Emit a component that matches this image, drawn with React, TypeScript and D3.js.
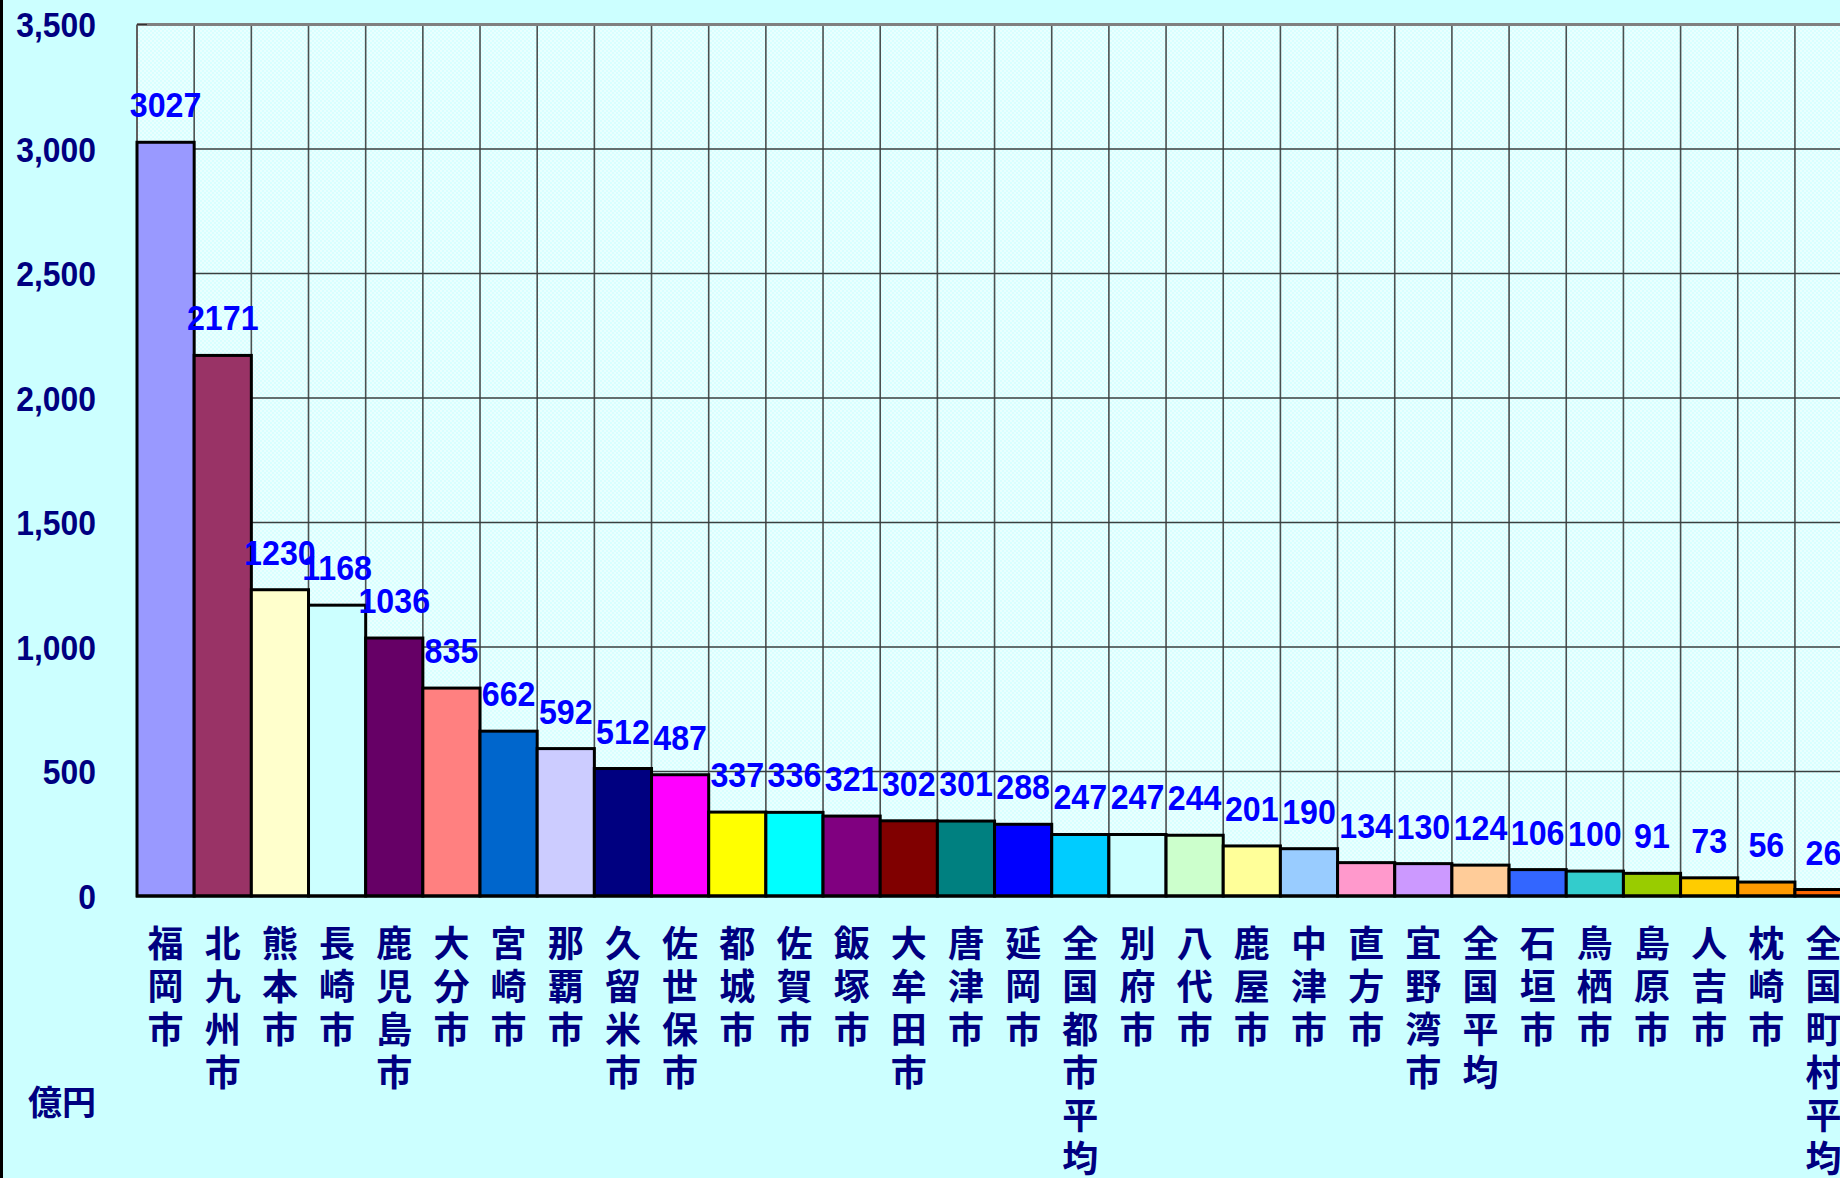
import React from "react";
import * as d3 from "d3";

const categories = [
  "福岡市", "北九州市", "熊本市", "長崎市", "鹿児島市", "大分市", "宮崎市", "那覇市",
  "久留米市", "佐世保市", "都城市", "佐賀市", "飯塚市", "大牟田市", "唐津市", "延岡市",
  "全国都市平均", "別府市", "八代市", "鹿屋市", "中津市", "直方市", "宜野湾市", "全国平均",
  "石垣市", "鳥栖市", "島原市", "人吉市", "枕崎市", "全国町村平均",
];
const values = [
  3027, 2171, 1230, 1168, 1036, 835, 662, 592, 512, 487, 337, 336, 321, 302, 301, 288,
  247, 247, 244, 201, 190, 134, 130, 124, 106, 100, 91, 73, 56, 26,
];
const barColors = [
  "#9999FF", "#993366", "#FFFFCC", "#CCFFFF", "#660066", "#FF8080", "#0066CC", "#CCCCFF",
  "#000080", "#FF00FF", "#FFFF00", "#00FFFF", "#800080", "#800000", "#008080", "#0000FF",
  "#00CCFF", "#CCFFFF", "#CCFFCC", "#FFFF99", "#99CCFF", "#FF99CC", "#CC99FF", "#FFCC99",
  "#3366FF", "#33CCCC", "#99CC00", "#FFCC00", "#FF9900", "#FF6600",
];
const yTicks = [0, 500, 1000, 1500, 2000, 2500, 3000, 3500];
const unitLabel = "億円";

const W = 1840;
const H = 1178;
const left = 137;
const step = 57.17;
const top = 24.5;
const bottom = 896;

export default function App() {
  const x = d3.scaleBand<string>().domain(categories).range([left, left + step * categories.length]).padding(0);
  const y = d3.scaleLinear().domain([0, 3500]).range([bottom, top]);
  const fmt = d3.format(",");
  const numFont = "'Liberation Sans', Arial, sans-serif";
  const cjkFont = "'Noto Sans CJK JP', sans-serif";
  const plotRight = left + step * categories.length;

  return (
    <svg width={W} height={H} style={{ position: "absolute", left: 0, top: 0 }}>
      <defs>
        <pattern id="chk" width="4" height="4" patternUnits="userSpaceOnUse">
          <rect width="4" height="4" fill="#EAFFFF" />
          <rect width="2" height="2" fill="#D8FFFF" />
          <rect x="2" y="2" width="2" height="2" fill="#D8FFFF" />
        </pattern>
      </defs>
      <rect width={W} height={H} fill="#CCFFFF" />
      <rect x={0} y={0} width={3} height={H} fill="#000" />
      <rect x={left} y={top} width={plotRight - left} height={bottom - top} fill="url(#chk)" />
      {/* vertical gridlines */}
      {categories.map((c, i) =>
        i === 0 ? null : (
          <line key={"v" + i} x1={x(c)} x2={x(c)} y1={top} y2={bottom} stroke="#4a5050" strokeWidth={1.6} />
        )
      )}
      {/* horizontal gridlines */}
      {yTicks.map((t) =>
        t === 0 || t === 3500 ? null : (
          <line key={"h" + t} x1={left} x2={plotRight} y1={y(t)} y2={y(t)} stroke="#3a4040" strokeWidth={1.6} />
        )
      )}
      <line x1={left} x2={plotRight} y1={top} y2={top} stroke="#808080" strokeWidth={3} />
      <line x1={left} x2={left} y1={top} y2={bottom} stroke="#606060" strokeWidth={2} />
      {yTicks.map((t) => (
        <line key={"tk" + t} x1={left} x2={left + 10} y1={y(t)} y2={y(t)} stroke="#333" strokeWidth={1.2} />
      ))}
      {/* bars */}
      {categories.map((c, i) => (
        <rect
          key={"b" + i}
          x={x(c)!}
          y={y(values[i])}
          width={x.bandwidth()}
          height={bottom - y(values[i])}
          fill={barColors[i]}
          stroke="#000"
          strokeWidth={3}
        />
      ))}
      <line x1={left - 1} x2={plotRight} y1={bottom} y2={bottom} stroke="#000" strokeWidth={3} />
      {/* value labels */}
      {categories.map((c, i) => (
        <text
          key={"l" + i}
          transform={`translate(${x(c)! + x.bandwidth() / 2},${y(values[i]) - 25}) scale(0.92,1)`}
          textAnchor="middle"
          fontFamily={numFont}
          fontWeight="bold"
          fontSize={35}
          fill="#0000FF"
        >
          {values[i]}
        </text>
      ))}
      {/* y tick labels */}
      {yTicks.map((t) => (
        <text
          key={"yl" + t}
          transform={`translate(96,${y(t) + 12.5}) scale(0.91,1)`}
          textAnchor="end"
          fontFamily={numFont}
          fontWeight="bold"
          fontSize={35}
          fill="#000080"
        >
          {fmt(t)}
        </text>
      ))}
      {/* category labels (vertical) */}
      {categories.map((c, i) => (
        <text
          key={"c" + i}
          x={x(c)! + x.bandwidth() / 2}
          y={925}
          style={{ writingMode: "vertical-rl", letterSpacing: "7px" }}
          fontFamily={cjkFont}
          fontWeight="bold"
          fontSize={36}
          fill="#000080"
        >
          {c}
        </text>
      ))}
      <text x={62} y={1115} textAnchor="middle" fontFamily={cjkFont} fontWeight="bold" fontSize={34} fill="#000080">
        {unitLabel}
      </text>
    </svg>
  );
}
